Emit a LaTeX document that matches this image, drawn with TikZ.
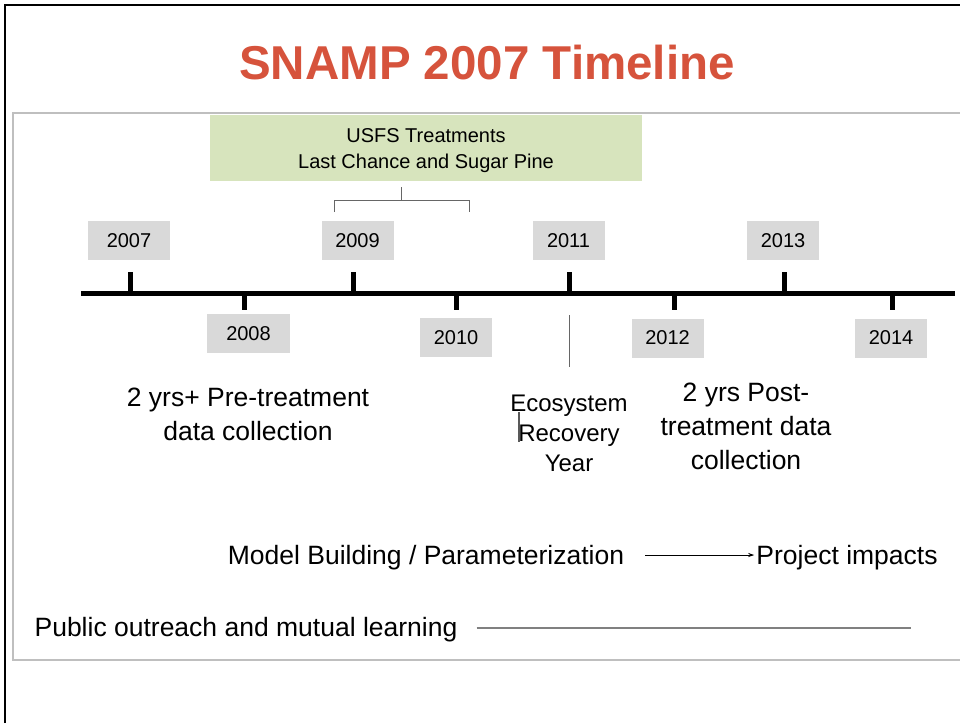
\documentclass[tikz,border=0pt]{standalone}
\usepackage{fontspec}
\setmainfont{Liberation Sans}
\usepackage{xcolor}
\usetikzlibrary{arrows.meta}
\definecolor{titlered}{HTML}{D6533C}
\definecolor{treatgreen}{HTML}{D7E4BD}
\definecolor{yeargray}{HTML}{D9D9D9}
\definecolor{panelgray}{HTML}{BFBFBF}

\begin{document}
\begin{tikzpicture}[x=1pt,y=-1pt,
    yearbox/.style={fill=yeargray, minimum width=72pt, minimum height=39pt, inner sep=0pt, font=\fontsize{20}{24}\selectfont},
    bigtext/.style={align=center, inner sep=2pt, font=\fontsize{26.5}{34}\selectfont},
    tick/.style={line width=5pt}]
    \useasboundingbox (0,0) rectangle (960,723);

    % Frame and panel
    \draw[line width=2pt] (5,723) -- (5,5) -- (960,5);
    \draw[panelgray, line width=1.2pt] (960,113) -- (13,113) -- (13,660) -- (960,660);

    % Title
    \node[font=\fontsize{47.5}{50}\selectfont\bfseries, text=titlered] (title) at (487,63) {SNAMP 2007 Timeline};

    % Treatment box and bracket
    \node[fill=treatgreen, minimum width=432pt, minimum height=66pt] (usfs) at (426,147.5) {};
    \node[align=center, font=\fontsize{20}{26}\selectfont] (usfstext) at (426,150.5) {USFS Treatments\\Last Chance and Sugar Pine};
    \draw[gray!80!black, line width=0.9pt] (334,212) -- (334,200) -- (469,200) -- (469,212);
    \draw[gray!80!black, line width=0.9pt] (401,200) -- (401,187);

    % Draw the timeline
    \draw[line width=5pt] (81,293) -- (955,293);
    \foreach \tx in {130,353,569,784}
        \draw[tick] (\tx,272) -- (\tx,293);
    \foreach \tx in {244,456,674,892}
        \draw[tick] (\tx,293) -- (\tx,310);

    % Year labels
    \node[yearbox, minimum width=82pt] (y2007) at (129,240.5) {2007};
    \node[yearbox] (y2009) at (357.5,240.5) {2009};
    \node[yearbox] (y2011) at (568.5,240.5) {2011};
    \node[yearbox] (y2013) at (783,240.5) {2013};
    \node[yearbox, minimum width=83pt] (y2008) at (248.5,333.5) {2008};
    \node[yearbox] (y2010) at (456,337.5) {2010};
    \node[yearbox] (y2012) at (667.5,338) {2012};
    \node[yearbox] (y2014) at (891,338) {2014};

    % Phases
    \node[bigtext] (pre) at (248,414) {2 yrs+ Pre-treatment\\data collection};
    \draw[gray!80!black, line width=1pt] (569,315) -- (569,367);
    \node[align=center, font=\fontsize{24}{30}\selectfont] (eco) at (569,433) {Ecosystem\\Recovery\\Year};
    \draw[gray!70!black, line width=1.2pt] (519,412) -- (519,442);
    \node[bigtext] (post) at (746,426) {2 yrs Post-\\treatment data\\collection};

    % Modelling and outreach
    \node[bigtext] (model) at (426,558) {Model Building / Parameterization};
    \node[bigtext] (impacts) at (847,558) {Project impacts};
    \coordinate (arrowy) at (0,555);
    \draw[-{Stealth[length=6pt,width=4pt]}, line width=0.9pt, shorten <=19pt] (model.east |- arrowy) -- (impacts.west |- arrowy);
    \node[bigtext] (outreach) at (246,630) {Public outreach and mutual learning};
    \coordinate (outend) at (911,628);
    \draw[gray, line width=1.2pt, shorten <=17pt] (outreach.east |- outend) -- (outend);
\end{tikzpicture}
\end{document}
